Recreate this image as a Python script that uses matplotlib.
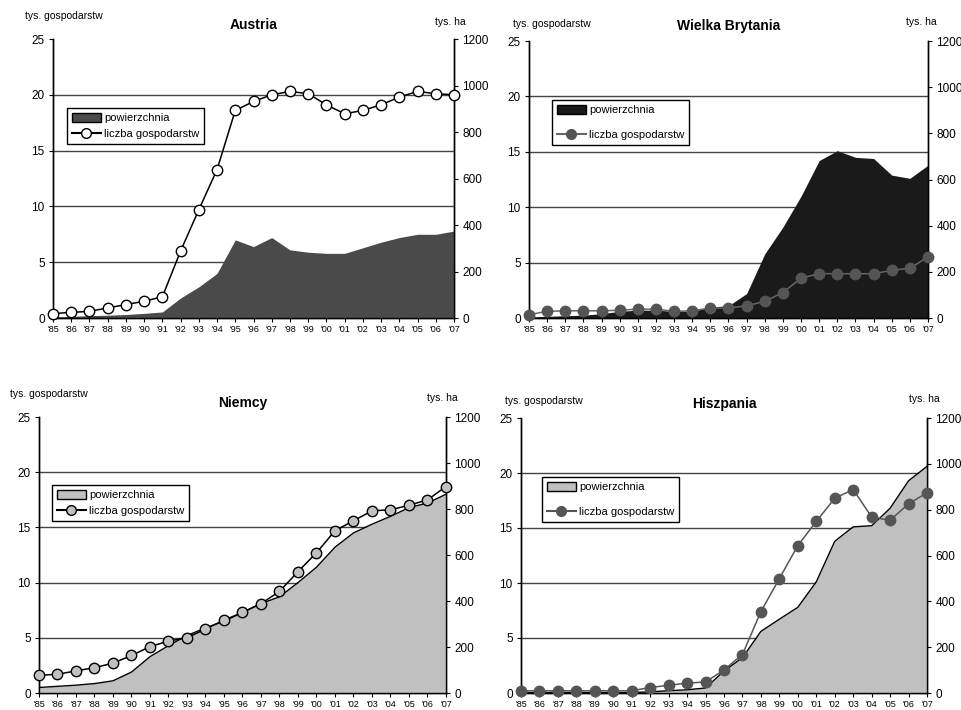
import numpy as np
import matplotlib
matplotlib.use('Agg')
import matplotlib.pyplot as plt
from matplotlib.patches import Patch
from matplotlib.lines import Line2D

plt.rcParams['font.family'] = ['Liberation Sans', 'DejaVu Sans']

years = list(range(1985, 2008))
year_labels = ["'%02d" % (y % 100) for y in years]

# liczba gospodarstw (tys.) - lewa os
austria_farms = [0.4, 0.5, 0.6, 0.9, 1.2, 1.5, 1.9, 6.0, 9.7, 13.3, 18.6, 19.4,
                 20.0, 20.3, 20.1, 19.1, 18.3, 18.6, 19.1, 19.8, 20.3, 20.1, 20.0]
uk_farms = [0.3, 0.6, 0.65, 0.65, 0.65, 0.7, 0.8, 0.8, 0.6, 0.65, 0.9, 0.9,
            1.1, 1.5, 2.3, 3.6, 4.0, 4.0, 4.0, 4.0, 4.3, 4.5, 5.5]
de_farms = [1.6, 1.7, 2.0, 2.3, 2.7, 3.4, 4.2, 4.7, 5.0, 5.8, 6.6, 7.3,
            8.1, 9.2, 11.0, 12.7, 14.7, 15.6, 16.5, 16.6, 17.0, 17.5, 18.7]
es_farms = [0.2, 0.2, 0.2, 0.2, 0.2, 0.2, 0.2, 0.5, 0.7, 0.9, 1.0, 2.1,
            3.5, 7.4, 10.4, 13.4, 15.6, 17.7, 18.5, 16.0, 15.7, 17.2, 18.2]

# powierzchnia (tys. ha) - prawa os
austria_area = [5, 7, 10, 12, 15, 20, 26, 86, 134, 192, 336, 307,
                346, 293, 283, 278, 278, 302, 326, 346, 360, 360, 374]
uk_area = [5, 7, 10, 12, 19, 29, 34, 34, 29, 29, 48, 53,
           106, 278, 394, 528, 682, 725, 696, 691, 619, 605, 662]
de_area = [24, 29, 34, 41, 53, 91, 158, 206, 250, 283, 312, 350,
           389, 418, 480, 547, 634, 696, 734, 768, 806, 826, 864]
es_area = [2, 2, 2, 2, 2, 2, 2, 5, 10, 14, 22, 96,
           154, 269, 322, 374, 485, 662, 725, 730, 806, 926, 989]

fig = plt.figure(figsize=(9.62, 7.10), dpi=100)

panels = [
    dict(title='Austria', farms=austria_farms, area=austria_area,
         rect=[53, 39, 454, 318], fill='#4a4a4a', edge=None,
         lc='black', mfc='white', mec='black',
         leg=(67, 108), lsp=0.45, unit_l=(25, 16), unit_r=(435, 22), title_y=25),
    dict(title='Wielka Brytania', farms=uk_farms, area=uk_area,
         rect=[529, 41, 928, 318], fill='#1a1a1a', edge=None,
         lc='#666666', mfc='#555555', mec='#555555',
         leg=(552, 100), lsp=1.3, unit_l=(513, 24), unit_r=(906, 22), title_y=26),
    dict(title='Niemcy', farms=de_farms, area=de_area,
         rect=[39, 417, 446, 693], fill='#c0c0c0', edge='black',
         lc='black', mfc='#c0c0c0', mec='black',
         leg=(52, 485), lsp=0.45, unit_l=(10, 394), unit_r=(427, 398), title_y=403),
    dict(title='Hiszpania', farms=es_farms, area=es_area,
         rect=[521, 418, 927, 693], fill='#c0c0c0', edge='black',
         lc='#555555', mfc='#555555', mec='#555555',
         leg=(542, 477), lsp=1.3, unit_l=(505, 401), unit_r=(909, 399), title_y=404),
]

W, H = 962.0, 710.0
for p in panels:
    x0, y0, x1, y1 = p['rect']
    ax = fig.add_axes([x0 / W, 1 - y1 / H, (x1 - x0) / W, (y1 - y0) / H])
    ax2 = ax.twinx()
    # powierzchnia na prawej osi
    ax2.fill_between(years, 0, p['area'], color=p['fill'], linewidth=0, zorder=1)
    if p['edge']:
        ax2.plot(years, p['area'], color=p['edge'], linewidth=1.0, zorder=2)
    for g in [240, 480, 720, 960]:
        ax2.axhline(g, color='#444444', linewidth=1.0, zorder=0.5)
    ax2.set_ylim(0, 1200)
    ax2.set_yticks(range(0, 1201, 200))
    ax.set_ylim(0, 25)
    ax.set_xlim(1985, 2007)
    ax.set_yticks(range(0, 26, 5))
    # liczba gospodarstw nad powierzchnia
    ax3 = ax.twinx()
    ax3.set_ylim(0, 25)
    ax3.set_xlim(1985, 2007)
    ax3.axis('off')
    ax3.plot(years, p['farms'], color=p['lc'], linewidth=1.1, marker='o',
             markersize=7.5, markerfacecolor=p['mfc'], markeredgecolor=p['mec'],
             markeredgewidth=1.0, zorder=3, clip_on=False)
    ax.set_xticks(years)
    ax.set_xticklabels(year_labels, fontsize=6.5)
    ax.tick_params(axis='x', length=3, width=0.8, pad=2)
    ax.tick_params(axis='y', labelsize=8.5, length=3, width=0.8, pad=3)
    ax2.tick_params(axis='y', labelsize=8.5, length=3, width=0.8, pad=3)
    for a in (ax, ax2):
        a.spines['top'].set_visible(False)
        for s in ('left', 'right', 'bottom'):
            a.spines[s].set_linewidth(1.0)
    fig.text((x0 + x1) / 2 / W, 1 - p['title_y'] / H, p['title'],
             fontsize=10, fontweight='bold', ha='center', va='center')
    fig.text(p['unit_l'][0] / W, 1 - p['unit_l'][1] / H, 'tys. gospodarstw',
             fontsize=7.5, va='center', ha='left')
    fig.text(p['unit_r'][0] / W, 1 - p['unit_r'][1] / H, 'tys. ha',
             fontsize=7.5, va='center', ha='left')
    handles = [Patch(facecolor=p['fill'], edgecolor='black', linewidth=1.0),
               Line2D([], [], color=p['lc'], marker='o', markersize=7,
                      markerfacecolor=p['mfc'], markeredgecolor=p['mec'])]
    ax3.legend(handles, ['powierzchnia', 'liczba gospodarstw'],
               loc='upper left', bbox_to_anchor=(p['leg'][0] / W, 1 - p['leg'][1] / H),
               bbox_transform=fig.transFigure, fontsize=8, frameon=True,
               fancybox=False, edgecolor='black', framealpha=1,
               handlelength=2.6, handleheight=0.9, handletextpad=0.3,
               borderpad=0.45, labelspacing=p['lsp'], borderaxespad=0)

fig.savefig('out.png', dpi=100)
